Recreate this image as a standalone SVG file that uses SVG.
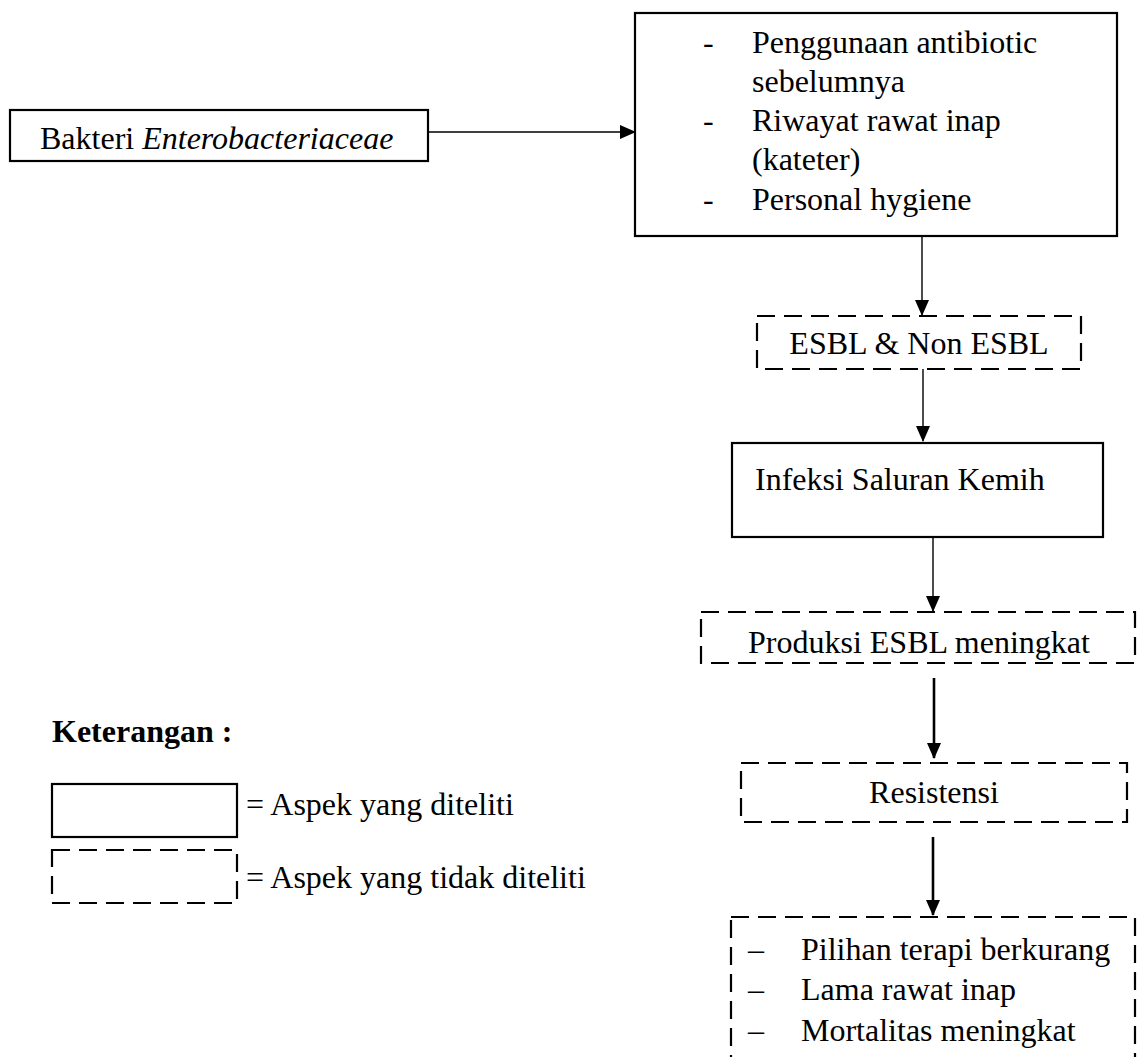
<svg xmlns="http://www.w3.org/2000/svg" width="1137" height="1057" viewBox="0 0 1137 1057">
<style>
text { font-family: "Liberation Serif", "Times New Roman", serif; font-size: 32px; fill: #000; }
.solid { fill: #fff; stroke: #000; stroke-width: 2.2; }
.dash { fill: #fff; stroke: #000; stroke-width: 2.2; stroke-dasharray: 18 9; }
.conn { stroke: #000; stroke-width: 1.4; fill: none; }
.thick { stroke: #000; stroke-width: 2.6; fill: none; }
.bold { font-weight: bold; }
</style>
<defs>
<marker id="ah" markerUnits="userSpaceOnUse" markerWidth="16" markerHeight="14" refX="15" refY="7" orient="auto">
<path d="M0,0 L16,7 L0,14 Z" fill="#000"/>
</marker>
<clipPath id="clipProd"><rect x="701" y="600" width="436" height="62"/></clipPath>
</defs>
<rect width="1137" height="1057" fill="#fff"/>

<g id="connectors">
<line class="conn" x1="428" y1="132" x2="635" y2="132" marker-end="url(#ah)"/>
<line class="conn" x1="922" y1="236" x2="922" y2="315" marker-end="url(#ah)"/>
<line class="conn" x1="923" y1="369" x2="923" y2="441" marker-end="url(#ah)"/>
<line class="conn" x1="933" y1="537" x2="933" y2="611" marker-end="url(#ah)"/>
<line class="thick" x1="934" y1="678" x2="934" y2="758" marker-end="url(#ah)"/>
<line class="thick" x1="933" y1="837" x2="933" y2="915" marker-end="url(#ah)"/>
</g>

<g id="node-bakteri">
<rect class="solid" x="10" y="110" width="418" height="51"/>
<text x="40" y="149">Bakteri <tspan font-style="italic">Enterobacteriaceae</tspan></text>
</g>

<g id="node-faktor">
<rect class="solid" x="635" y="13" width="482" height="223"/>
<text x="703" y="53">-</text>
<text x="752" y="53">Penggunaan antibiotic</text>
<text x="752" y="92">sebelumnya</text>
<text x="703" y="131">-</text>
<text x="752" y="131">Riwayat rawat inap</text>
<text x="752" y="170">(kateter)</text>
<text x="703" y="210">-</text>
<text x="752" y="210">Personal hygiene</text>
</g>

<g id="node-esbl">
<rect class="dash" x="757" y="316" width="324" height="53"/>
<text x="919" y="354" text-anchor="middle">ESBL &amp; Non ESBL</text>
</g>

<g id="node-isk">
<rect class="solid" x="732" y="443" width="371" height="94"/>
<text x="755" y="490">Infeksi Saluran Kemih</text>
</g>

<g id="node-produksi">
<rect class="dash" x="701" y="612" width="434" height="51"/>
<text x="748" y="653" clip-path="url(#clipProd)">Produksi ESBL meningkat</text>
</g>

<g id="node-resistensi">
<rect class="dash" x="741" y="763" width="386" height="59"/>
<text x="934" y="803" text-anchor="middle">Resistensi</text>
</g>

<g id="node-dampak">
<rect class="dash" x="731" y="917" width="404" height="160"/>
<text x="748" y="960">–</text>
<text x="801" y="960">Pilihan terapi berkurang</text>
<text x="748" y="1000">–</text>
<text x="801" y="1000">Lama rawat inap</text>
<text x="748" y="1041">–</text>
<text x="801" y="1041">Mortalitas meningkat</text>
</g>

<g id="legend">
<text class="bold" x="52" y="742">Keterangan :</text>
<rect class="solid" x="52" y="784" width="185" height="53"/>
<text x="246" y="815">= Aspek yang diteliti</text>
<rect class="dash" x="52" y="850" width="185" height="53"/>
<text x="246" y="888">= Aspek yang tidak diteliti</text>
</g>
</svg>
